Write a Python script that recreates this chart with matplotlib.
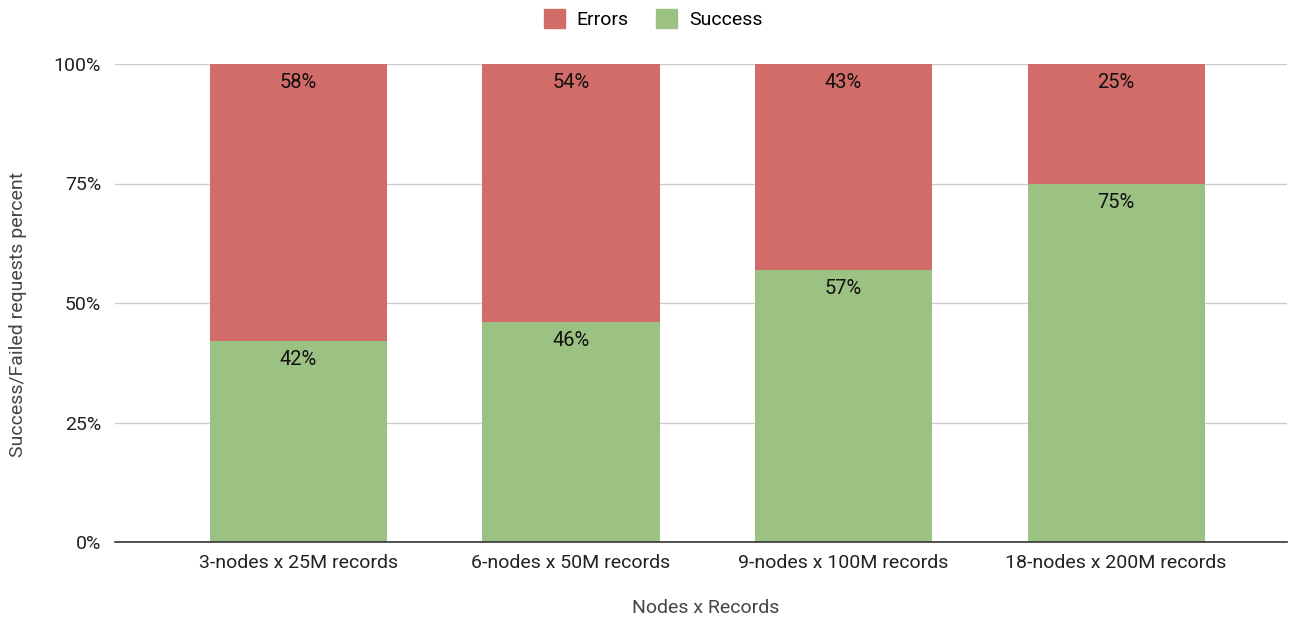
import matplotlib
matplotlib.use("Agg")
import matplotlib.pyplot as plt
from matplotlib.patches import Patch

categories = ["3-nodes x 25M records", "6-nodes x 50M records",
              "9-nodes x 100M records", "18-nodes x 200M records"]
success = [42, 46, 57, 75]
errors = [58, 54, 43, 25]
yticks = [0, 25, 50, 75, 100]
ytick_labels = ["0%", "25%", "50%", "75%", "100%"]

plt.rcParams['font.family'] = ['Roboto', 'DejaVu Sans']
RED = "#d26c68"
GREEN = "#9cc283"

fig = plt.figure(figsize=(13.01, 6.21), dpi=100)
W, H = 1301, 621
ax = fig.add_axes([115 / W, 1 - 542 / H, (1287 - 115) / W, (542 - 64) / H])

x = list(range(len(categories)))
bw = 0.65
ax.bar(x, success, width=bw, color=GREEN, zorder=2)
ax.bar(x, errors, width=bw, bottom=success, color=RED, zorder=2)

for i in x:
    ax.text(i, success[i] - 1.9, f"{success[i]}%", ha="center", va="top",
            fontsize=14.5, color="#111111", zorder=3)
    ax.text(i, 100 - 1.9, f"{errors[i]}%", ha="center", va="top",
            fontsize=14.5, color="#111111", zorder=3)

ax.set_xlim(-0.673, 3.627)
ax.set_ylim(0, 100)
ax.set_yticks(yticks)
ax.set_yticklabels(ytick_labels)
ax.set_xticks(x)
ax.set_xticklabels(categories)
ax.tick_params(axis="both", length=0, labelsize=14, colors="#222222")
ax.tick_params(axis="y", pad=10)
ax.tick_params(axis="x", pad=9)
ax.grid(axis="y", color="#cccccc", linewidth=1, zorder=0)
for s in ["top", "right", "left"]:
    ax.spines[s].set_visible(False)
ax.spines["bottom"].set_color("#333333")
ax.spines["bottom"].set_linewidth(1.2)
ax.spines["bottom"].set_zorder(4)

fig.text(18 / W, 1 - 314 / H, "Success/Failed requests percent", rotation=90,
         ha="center", va="center", fontsize=14, color="#444444")
fig.text(706 / W, 1 - 608 / H, "Nodes x Records", ha="center", va="center",
         fontsize=14, color="#444444")

handles = [Patch(color=RED, label="Errors"), Patch(color=GREEN, label="Success")]
fig.legend(handles=handles, loc="center", bbox_to_anchor=(653 / W, 1 - 19 / H),
           ncol=2, frameon=False, fontsize=14, handlelength=1.1,
           handleheight=1.1, columnspacing=1.4, handletextpad=0.6)

fig.savefig("out.png", dpi=100)
